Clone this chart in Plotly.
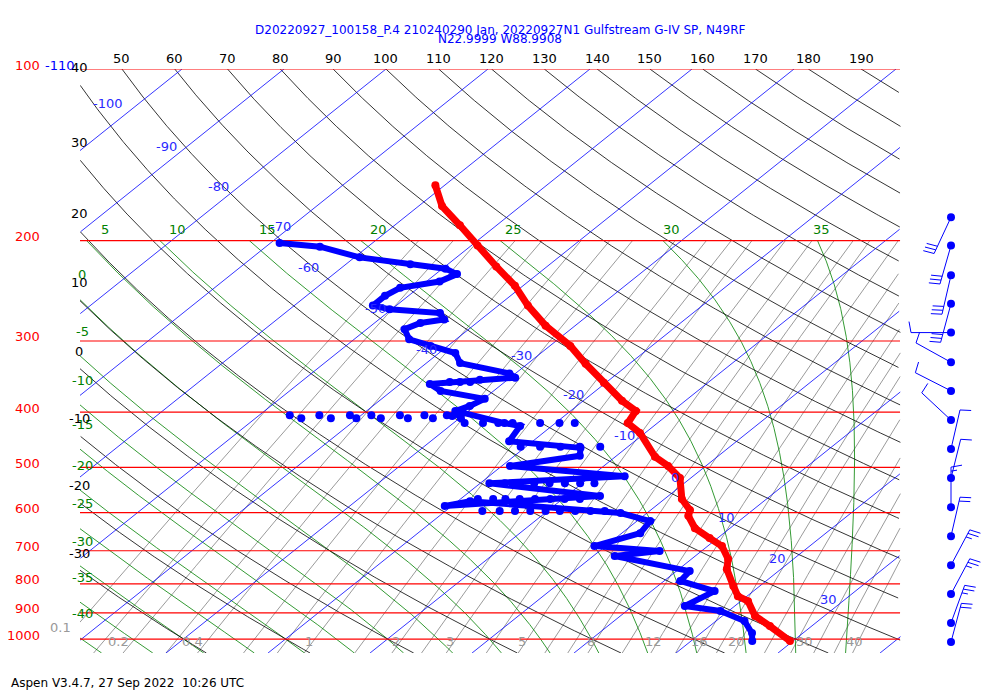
import numpy as np
import plotly.graph_objects as go

# ---------------- data ----------------
temp_p = [160, 174, 188, 204, 222, 240, 260, 282, 306, 329, 355, 382, 398, 418, 435, 479, 497, 522,
          568, 594, 608, 639, 665, 687, 724, 754, 807, 841, 858, 911, 949, 1008]
temp_t = [-60.9, -57.7, -53.6, -49.4, -45.0, -40.8, -37.1, -32.9, -28.0, -24.3, -20.2, -16.2, -13.6,
          -12.9, -10.5, -6.1, -3.7, -1.05, 1.7, 3.85, 4.4, 6.55, 9.2, 11.4, 13.6, 14.7, 17.4, 19.1,
          20.7, 23.2, 25.9, 29.7]

dew_p = [202, 205, 214, 220, 224, 229, 236, 242, 250, 260, 264, 268, 275, 279, 286, 298, 306, 315,
         328, 342, 348, 351, 357, 367, 379, 390, 398, 418, 423, 450, 462, 477, 497,
         518, 533, 561, 584, 573, 601, 621, 652, 687, 701, 715, 760, 791, 824, 875, 893, 930, 976, 1008]
dew_t = [-69.1, -64.7, -59.5, -53.7, -49.7, -47.9, -48.7, -51.8, -52.3, -52.3, -50.2, -44.8, -43.6,
         -45.5, -46.3, -44.6, -41.7, -38.4, -36.7, -30.6, -29.5, -32.7, -37.1, -35.2, -29.9, -30.5,
         -31.3, -25.0, -23.1, -22.3, -14.5, -13.6, -19.2, -6.7, -19.1, -6.7,
         -20.7, -18.8, -2.6, 1.3, 1.8, -1.1, 5.9, 2.1, 11.3, 11.6, 16.2, 15.1, 19.2, 22.8, 25.0, 26.0]

dots_p = [405, 410, 405, 410, 405, 410, 405, 410, 405, 410, 405, 410, 405, 410, 404, 406,
          354, 354, 354, 418, 418, 418, 418, 418, 418, 418,
          568, 568, 568, 568, 568, 568, 568, 568,
          596, 596, 596, 596, 596, 596, 596, 596, 596,
          533, 533, 533, 533, 533, 533, 533, 460, 460, 460, 460, 460]
dots_t = [-47.0, -45.5, -44.1, -42.6, -41.1, -40.1, -39.0, -37.7, -36.2, -35.05, -33.8, -32.6, -31.6, -29.85,
          -30.5, -31.0,
          -35.4, -34.4, -33.4, -28.9, -27.1, -25.6, -24.2, -21.5, -19.6, -18.1,
          -18.3, -16.8, -15.6, -14.2, -12.7, -11.2, -9.8, -8.3,
          -16.4, -14.7, -13.2, -11.7, -10.2, -8.8, -7.3, -5.8, -4.4,
          -17.6, -16.1, -14.7, -13.2, -11.7, -10.2, -8.8, -20.5, -18.6, -16.6, -14.7, -12.7]

wind_p = [182, 204, 230, 258, 290, 327, 367, 413, 464, 522, 587, 660, 742, 834, 937, 1012]
wind_dir = [205, 196, 193, 195, 270, 299, 297, 313, 13, 14, 0, 13, 28, 28, 20, 15]
wind_spd = [30, 30, 30, 30, 10, 10, 10, 10, 10, 10, 15, 20, 25, 25, 25, 20]

isobars = [100, 200, 300, 400, 500, 600, 700, 800, 900, 1000]
isotherms = list(range(-120, 50, 10))
iso_label_t = [-100, -90, -80, -70, -60, -50, -40, -30, -20, -10, 0, 10, 20, 30]
iso_label_p = [115, 136.5, 161, 189, 223, 263, 310, 318, 373, 440, 520, 611, 721, 851]
dry_theta = list(range(-30, 210, 10))
moist_thw = list(range(-40, 40, 5))
mix_w = [0.1, 0.15, 0.2, 0.3, 0.4, 0.6, 0.8, 1, 1.5, 2, 2.5, 3, 4, 5, 6, 7, 8, 10, 12, 14, 16, 18, 20,
         24, 28, 32, 36, 40]
mix_labels = [0.2, 0.4, 1, 2, 3, 5, 8, 12, 16, 20, 30, 40]

# ---------------- geometry ----------------
SKEW = 69.85
PX = 10.2
XL, XR = -40.15, 40.25
P_BOT = 1058.0
XMIN, XMAX = (80 - 489.5) / PX, (990 - 489.5) / PX
XIN = XL + 0.05
FONT = "DejaVu Sans"
ISO_SHIFT = [-31, -21, -20, -11, -33, -17, -17, -17, -17, -17, -17, -17, -17, -17]


def sx(T, p):
    return np.asarray(T, float) + SKEW * np.log10(1000.0 / np.asarray(p, float))


def clip(x):
    x = np.asarray(x, float).copy()
    x[(x < XL - 0.05) | (x > XR + 0.05)] = np.nan
    return x


def family(xs_list, ps_list):
    X, Y = [], []
    for x, p in zip(xs_list, ps_list):
        X += list(x) + [None]
        Y += list(p) + [None]
    return X, Y


def left_cross(x, p):
    idx = np.where(x >= XL)[0]
    if len(idx) == 0 or idx[0] == 0:
        return None
    return float(p[idx[0]])


def px_x(px):
    return (px - 80) / 910.0


def px_y(py):
    return (652 - py) / 584.0


fig = go.Figure()
ann = []

# mixing ratio lines
pm = np.linspace(200, P_BOT, 300)
xs = []
for w in mix_w:
    e = w * pm / (622 + w)
    le = np.log(e / 6.112)
    td = 243.5 * le / (17.67 - le)
    xs.append(clip(sx(td, pm)))
X, Y = family(xs, [pm] * len(xs))
fig.add_trace(go.Scatter(x=X, y=Y, mode="lines", line=dict(color="#808080", width=0.8), hoverinfo="skip"))
for w in mix_labels:
    e = w * 1010 / (622 + w)
    le = np.log(e / 6.112)
    td = 243.5 * le / (17.67 - le)
    xv = float(sx(td, 1010))
    sh = -14 if w < 1 else -4
    ann.append(dict(x=xv, y=np.log10(1010), text=str(w), showarrow=False, xshift=sh,
                    font=dict(color="#999999", size=13, family=FONT)))
ann.append(dict(x=px_x(60), xref="paper", y=px_y(626), yref="paper", text="0.1", showarrow=False,
                xanchor="center", yanchor="middle", font=dict(color="#999999", size=13, family=FONT)))

# moist adiabats
def moist_profile(thw):
    def f(T, p):
        Tk = T + 273.15
        es = 6.112 * np.exp(17.67 * T / (T + 243.5))
        rs = 0.622 * es / (p - es)
        num = 287.0 * Tk + 2.501e6 * rs
        den = 1004.0 + (2.501e6 ** 2 * rs * 0.622) / (287.0 * Tk ** 2)
        return num / den / p
    up = [thw]; pu = [1000.0]
    T, p = thw, 1000.0
    while p > 200:
        dp = -1.0
        k1 = f(T, p); k2 = f(T + 0.5 * dp * k1, p + 0.5 * dp)
        T += dp * k2; p += dp
        up.append(T); pu.append(p)
    dn = []; pd_ = []
    T, p = thw, 1000.0
    while p < P_BOT:
        dp = 1.0
        k1 = f(T, p); k2 = f(T + 0.5 * dp * k1, p + 0.5 * dp)
        T += dp * k2; p += dp
        dn.append(T); pd_.append(p)
    return np.array(up[::-1] + dn), np.array(pu[::-1] + pd_)

xs, pss = [], []
for th in moist_thw:
    ts, ps = moist_profile(th)
    x = sx(ts, ps)
    xs.append(clip(x)); pss.append(ps)
    if XL <= x[0] <= XR:
        sh = 18 if th <= 20 else 18 - (th - 20) * 0.93
        ann.append(dict(x=float(x[0]), y=np.log10(200), text=str(th), yshift=11, xshift=sh, showarrow=False,
                        font=dict(color="green", size=13, family=FONT)))
    else:
        pc = left_cross(x, ps)
        if pc is not None:
            ann.append(dict(x=XIN, y=np.log10(pc), text=str(th), showarrow=False, xshift=2, yshift=25,
                            font=dict(color="green", size=13, family=FONT)))
X, Y = family(xs, pss)
fig.add_trace(go.Scatter(x=X, y=Y, mode="lines", line=dict(color="green", width=0.8), hoverinfo="skip"))

# dry adiabats
pdry = np.geomspace(100, P_BOT, 500)
xs = []
for th in dry_theta:
    T = (th + 273.15) * (pdry / 1000.0) ** 0.286 - 273.15
    x = sx(T, pdry)
    xs.append(clip(x))
    if XL <= x[0] <= XR:
        ann.append(dict(x=float(x[0]), y=2, text=str(th), yshift=11, showarrow=False,
                        font=dict(color="black", size=13, family=FONT)))
    else:
        pc = left_cross(x, pdry)
        ys = 18
        if pc is None and x[0] < XL:
            pc, ys = 100.0, 1
        if pc is not None:
            ann.append(dict(x=XIN, y=np.log10(pc), text=str(th), showarrow=False, xshift=-1,
                            yshift=ys if pc > 101 else 1,
                            font=dict(color="black", size=13, family=FONT)))
X, Y = family(xs, [pdry] * len(xs))
fig.add_trace(go.Scatter(x=X, y=Y, mode="lines", line=dict(color="black", width=0.8), hoverinfo="skip"))

# isotherms
xs = [clip(sx(t, pdry)) for t in isotherms]
X, Y = family(xs, [pdry] * len(xs))
fig.add_trace(go.Scatter(x=X, y=Y, mode="lines", line=dict(color="blue", width=0.8), hoverinfo="skip"))
for t, p, s in zip(iso_label_t, iso_label_p, ISO_SHIFT):
    ann.append(dict(x=float(sx(t, p)), y=np.log10(p), text=str(t), xshift=s, showarrow=False,
                    font=dict(color="#2a2aff", size=13, family=FONT)))

# isobars
X, Y = [], []
for p in isobars:
    X += [XL, XR, None]; Y += [p, p, None]
    ann.append(dict(x=px_x(42), xref="paper", xanchor="right", y=np.log10(p), yshift=4, text=str(p),
                    showarrow=False, font=dict(color="red", size=13, family=FONT)))
fig.add_trace(go.Scatter(x=X, y=Y, mode="lines", line=dict(color="red", width=1.2), hoverinfo="skip"))
ann.append(dict(x=px_x(43), xref="paper", xanchor="left", y=2, yshift=4, text="-110", showarrow=False,
                font=dict(color="blue", size=13, family=FONT)))

# soundings
fig.add_trace(go.Scatter(x=sx(dots_t, dots_p), y=dots_p, mode="markers",
                         marker=dict(color="blue", size=8), hoverinfo="skip"))
fig.add_trace(go.Scatter(x=sx(dew_t, dew_p), y=dew_p, mode="lines+markers",
                         line=dict(color="blue", width=6), marker=dict(color="blue", size=8), hoverinfo="skip"))
fig.add_trace(go.Scatter(x=sx(temp_t, temp_p), y=temp_p, mode="lines+markers",
                         line=dict(color="red", width=7), marker=dict(color="red", size=8), hoverinfo="skip"))

# wind barbs
XB = (951 - 489.5) / PX
BX, BY = [], []
for p0, d, s in zip(wind_p, wind_dir, wind_spd):
    r = np.radians(d)
    ax, ay = np.sin(r), np.cos(r)
    qx, qy = np.cos(r), -np.sin(r)
    L = 40.0
    def pt(dx, dy):
        return XB + dx / PX, p0 * 10 ** (-dy / 570.0)
    tx, ty = pt(L * ax, L * ay)
    BX += [XB, tx, None]; BY += [p0, ty, None]
    n_full, half = int(s // 10), (s % 10) >= 5
    pos = L
    for i in range(n_full):
        bx0, by0 = ax * pos, ay * pos
        a = pt(bx0, by0); b = pt(bx0 + qx * 11 + ax * 2, by0 + qy * 11 + ay * 2)
        BX += [a[0], b[0], None]; BY += [a[1], b[1], None]
        pos -= 4
    if half:
        if n_full == 0:
            pos -= 4
        bx0, by0 = ax * pos, ay * pos
        a = pt(bx0, by0); b = pt(bx0 + qx * 6 + ax * 1, by0 + qy * 6 + ay * 1)
        BX += [a[0], b[0], None]; BY += [a[1], b[1], None]
fig.add_trace(go.Scatter(x=BX, y=BY, mode="lines", line=dict(color="blue", width=1), hoverinfo="skip"))
fig.add_trace(go.Scatter(x=[XB] * len(wind_p), y=wind_p, mode="markers",
                         marker=dict(color="blue", size=8), hoverinfo="skip"))

fig.update_layout(
    width=1000, height=700, margin=dict(l=72, r=18, t=61, b=55),
    plot_bgcolor="white", paper_bgcolor="white", showlegend=False,
    xaxis=dict(range=[XMIN, XMAX], visible=False, fixedrange=True),
    yaxis=dict(type="log", range=[np.log10(P_BOT), 2], visible=False, fixedrange=True),
    annotations=ann,
)
fig.add_annotation(x=px_x(500), xref="paper", y=px_y(29), yref="paper", yanchor="middle",
                   text="D20220927_100158_P.4 210240290 Jan, 20220927N1 Gulfstream G-IV SP, N49RF",
                   showarrow=False, font=dict(color="blue", size=12, family=FONT))
fig.add_annotation(x=px_x(500), xref="paper", y=px_y(38), yref="paper", yanchor="middle",
                   text="N22.9999 W88.9908", showarrow=False, font=dict(color="blue", size=12, family=FONT))
fig.add_annotation(x=px_x(9), xref="paper", xanchor="left", y=px_y(682), yref="paper", yanchor="middle",
                   text="Aspen V3.4.7, 27 Sep 2022  10:26 UTC", showarrow=False,
                   font=dict(color="black", size=12, family=FONT))
fig.write_html("out.html")
